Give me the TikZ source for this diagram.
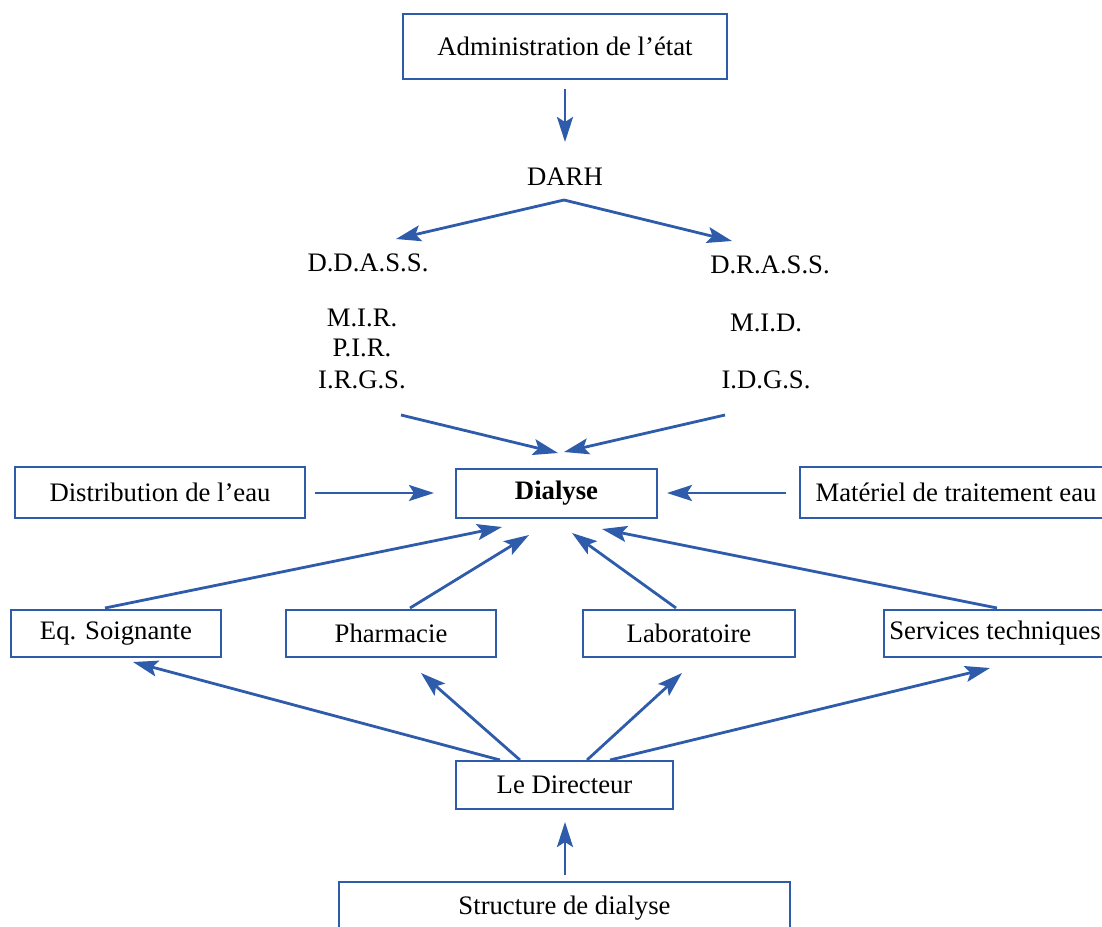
\documentclass[tikz,border=0pt]{standalone}
\usepackage{fontspec}
\setmainfont{Liberation Serif}
\usetikzlibrary{arrows.meta}
\definecolor{orgblue}{RGB}{46,91,170}
\begin{document}
\begin{tikzpicture}[x=1pt,y=-1pt,
  every node/.style={font=\fontsize{26.7}{32}\selectfont, inner sep=0pt},
  box/.style={draw=orgblue, line width=2.7pt, fill=white},
  lbl/.style={},
  conn/.style={draw=orgblue, line width=2.8pt, -{Stealth[length=25pt,width=16pt,inset=5pt]}}]
\useasboundingbox (0,0) rectangle (1102,926);
\clip (0,0) rectangle (1102,926);
% boxes
\node[box, minimum width=324pt, minimum height=65pt] (adm) at (565,46.5) {Administration de l’état};
\node[box, minimum width=290pt, minimum height=51pt] (dist) at (160,492.5) {Distribution de l’eau};
\node[box, minimum width=201pt, minimum height=49pt] (dia) at (556.5,493.5) {\bfseries Dialyse};
\node[box, minimum width=312pt, minimum height=51pt] (mat) at (956,492.5) {Matériel de traitement eau};
\node[box, minimum width=210pt, minimum height=47pt] (eq) at (116,633.5) {Eq. Soignante};
\node[box, minimum width=210pt, minimum height=47pt] (ph) at (391,633.5) {Pharmacie};
\node[box, minimum width=212pt, minimum height=47pt] (lab) at (689,633.5) {Laboratoire};
\node[box, minimum width=222pt, minimum height=47pt] (serv) at (995,633.5) {Services techniques};
\node[box, minimum width=217pt, minimum height=48pt] (dir) at (564.5,785) {Le Directeur};
\node[box, minimum width=451pt, minimum height=52pt] (str) at (564.5,908) {Structure de dialyse};
% plain texts
\node[lbl] (darh) at (565,177) {DARH};
\node[lbl] (ddass) at (368,263) {D.D.A.S.S.};
\node[lbl] (mir) at (362,318) {M.I.R.};
\node[lbl] (pir) at (362,348) {P.I.R.};
\node[lbl] (irgs) at (362,380) {I.R.G.S.};
\node[lbl] (drass) at (770,265) {D.R.A.S.S.};
\node[lbl] (mid) at (766,323) {M.I.D.};
\node[lbl] (idgs) at (766,380) {I.D.G.S.};
% connector end points
\coordinate (a1) at (565,89);
\coordinate (a2) at (565,142);
\coordinate (fork) at (564,200);
\coordinate (ddtip) at (396,239);
\coordinate (drtip) at (732,241);
\coordinate (ls) at (401,415);
\coordinate (lt) at (558,453);
\coordinate (rs) at (725,415);
\coordinate (rt) at (564,452);
\coordinate (ds) at (315,493);
\coordinate (dt) at (434,493);
\coordinate (ms) at (786,493);
\coordinate (mt) at (667,493);
\coordinate (eqs) at (105,608);
\coordinate (eqt) at (502,527);
\coordinate (phs) at (410,608);
\coordinate (pht) at (529,535);
\coordinate (labs) at (676,608);
\coordinate (labt) at (572,533);
\coordinate (servs) at (997,608);
\coordinate (servt) at (602,529);
\coordinate (d1) at (500,760);
\coordinate (d1t) at (133,662);
\coordinate (d2) at (520,760);
\coordinate (d2t) at (421,673);
\coordinate (d3) at (587,760);
\coordinate (d3t) at (682,673);
\coordinate (d4) at (610,760);
\coordinate (d4t) at (990,668);
\coordinate (ss) at (565,875);
\coordinate (st) at (565,822);
% connectors
\draw[conn] (a1) -- (a2);
\draw[conn] (fork) -- (ddtip);
\draw[conn] (fork) -- (drtip);
\draw[conn] (ls) -- (lt);
\draw[conn] (rs) -- (rt);
\draw[conn] (ds) -- (dt);
\draw[conn] (ms) -- (mt);
\draw[conn] (eqs) -- (eqt);
\draw[conn] (phs) -- (pht);
\draw[conn] (labs) -- (labt);
\draw[conn] (servs) -- (servt);
\draw[conn] (d1) -- (d1t);
\draw[conn] (d2) -- (d2t);
\draw[conn] (d3) -- (d3t);
\draw[conn] (d4) -- (d4t);
\draw[conn] (ss) -- (st);
\end{tikzpicture}
\end{document}
